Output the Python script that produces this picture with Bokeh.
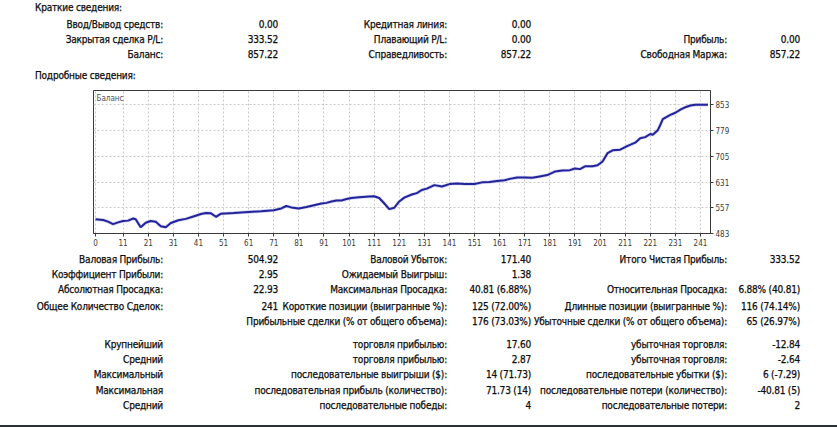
from bokeh.plotting import figure
from bokeh.models import Div, Range1d, FixedTicker, Label
from bokeh.layouts import column
from bokeh.embed import file_html
from bokeh.resources import INLINE

# ---------------- data ----------------
trade_idx = [0, 3, 5, 7, 9, 11, 13, 15, 16, 18, 20, 22, 24, 26, 28, 30, 33, 36, 39, 42,
             44, 46, 48, 50, 55, 61, 66, 71, 74, 76, 78, 81, 84, 87, 90, 92, 94, 96, 98,
             100, 102, 105, 109, 111, 113, 115, 117, 119, 121, 123, 126, 128, 130, 132,
             135, 138, 141, 144, 147, 151, 154, 157, 160, 163, 165, 168, 171, 174, 177,
             180, 183, 186, 189, 191, 193, 195, 198, 200, 202, 204, 206, 209, 212, 215,
             217, 219, 221, 222, 224, 225, 226, 229, 231, 233, 235, 237, 239, 241, 244]
balance = [523.7, 522, 517, 510, 515, 519, 520, 526, 524, 501, 514, 519, 517, 504, 501,
           513, 521, 525, 532, 539, 542, 541, 531, 540, 542, 545, 547, 550, 555, 562, 558,
           555, 559, 564, 569, 571, 575, 578, 578, 582, 585, 587, 589, 590, 585, 570, 553,
           557, 575, 586, 595, 599, 608, 612, 622, 618, 625, 627, 625, 625, 630, 631, 634,
           636, 640, 644, 644, 643, 647, 651, 661, 664, 665, 670, 668, 676, 676, 679, 690,
           714, 722, 724, 735, 744, 757, 760, 769, 767, 780, 795, 812, 824, 830, 839, 846,
           851, 853, 853, 853]
x_ticks = [0, 11, 21, 31, 41, 51, 61, 71, 81, 91, 101, 111, 121, 131, 141, 151, 161,
           171, 181, 191, 201, 211, 221, 231, 241]
y_ticks = [483, 557, 631, 705, 779, 853]
x_start, x_end = -0.8, 245
y_start, y_end = 483, 894

summary_title = "Краткие сведения:"
details_title = "Подробные сведения:"
summary_rows = [
    ["Ввод/Вывод средств:", "0.00", "Кредитная линия:", "0.00", "", ""],
    ["Закрытая сделка P/L:", "333.52", "Плавающий P/L:", "0.00", "Прибыль:", "0.00"],
    ["Баланс:", "857.22", "Справедливость:", "857.22", "Свободная Маржа:", "857.22"],
]
stats_rows = [
    ["Валовая Прибыль:", "504.92", "Валовой Убыток:", "171.40", "Итого Чистая Прибыль:", "333.52"],
    ["Коэффициент Прибыли:", "2.95", "Ожидаемый Выигрыш:", "1.38", "", ""],
    ["Абсолютная Просадка:", "22.93", "Максимальная Просадка:", "40.81 (6.88%)", "Относительная Просадка:", "6.88% (40.81)"],
    ["Общее Количество Сделок:", "241", "Короткие позиции (выигранные %):", "125 (72.00%)", "Длинные позиции (выигранные %):", "116 (74.14%)"],
    ["", "", "Прибыльные сделки (% от общего объема):", "176 (73.03%)", "Убыточные сделки (% от общего объема):", "65 (26.97%)"],
    ["Крупнейший", "", "торговля прибылью:", "17.60", "убыточная торговля:", "-12.84"],
    ["Средний", "", "торговля прибылью:", "2.87", "убыточная торговля:", "-2.64"],
    ["Максимальный", "", "последовательные выигрыши ($):", "14 (71.73)", "последовательные убытки ($):", "6 (-7.29)"],
    ["Максимальная", "", "последовательная прибыль (количество):", "71.73 (14)", "последовательные потери (количество):", "-40.81 (5)"],
    ["Средний", "", "последовательные победы:", "4", "последовательные потери:", "2"],
]

# ---------------- styling / layout helpers ----------------
W = 837
FONT = "Tahoma, 'DejaVu Sans Condensed', 'DejaVu Sans', sans-serif"
col_right = [163, 278, 447, 531, 727, 800]
BOX = (f'font-family:{FONT};font-size:10px;letter-spacing:-0.2px;color:#0e0e0e;'
       f'overflow:hidden;-webkit-text-stroke:0.25px #0e0e0e;')


def span_right(text, xr, yc):
    return (f'<span style="position:absolute;right:{W - xr}px;top:{yc - 7}px;'
            f'line-height:14px;white-space:nowrap;">{text}</span>')


def span_left(text, xl, yc):
    return (f'<span style="position:absolute;left:{xl}px;top:{yc - 7}px;'
            f'line-height:14px;white-space:nowrap;">{text}</span>')


# top block
parts = [f'<div style="position:relative;width:{W}px;height:88px;{BOX}">']
parts.append(span_left(summary_title, 35, 7.5))
parts.append(span_left(details_title, 35, 75.5))
for r, row in enumerate(summary_rows):
    yc = 24.5 + 15 * r
    for c, txt in enumerate(row):
        if txt:
            parts.append(span_right(txt, col_right[c], yc))
parts.append('</div>')
top_html = "".join(parts)

# bottom block
stats_y = [259.5, 274.5, 289.5, 306.5, 321.5, 345, 360, 375, 391, 406]
bottom_top = 250
parts = [f'<div style="position:relative;width:{W}px;height:{427 - bottom_top}px;{BOX}">']
for row, yc in zip(stats_rows, stats_y):
    for c, txt in enumerate(row):
        if txt:
            parts.append(span_right(txt, col_right[c], yc - bottom_top))
parts.append(f'<div style="position:absolute;left:0;top:{425 - bottom_top}px;'
             f'width:{W}px;height:2px;background:#283236;"></div>')
parts.append('</div>')
bottom_html = "".join(parts)

top_div = Div(text=top_html, width=W, height=88, margin=0,
              styles={"margin": "0", "padding": "0"})
bottom_div = Div(text=bottom_html, width=W, height=427 - bottom_top, margin=0,
                 styles={"margin": "0", "padding": "0"})

# ---------------- chart ----------------
p = figure(width=W, height=162, output_backend="svg", toolbar_location=None,
           x_range=Range1d(x_start, x_end), y_range=Range1d(y_start, y_end),
           y_axis_location="right", min_border_left=93, min_border_right=127,
           min_border_top=2, min_border_bottom=17, margin=0)
p.background_fill_color = "white"
p.border_fill_color = "white"
p.outline_line_color = "#3a3a3a"
p.outline_line_width = 1

p.line(trade_idx, balance, line_color="#b8b8e8", line_width=3.4, line_alpha=0.6)
p.line(trade_idx, balance, line_color="#23239a", line_width=2)

for ax in (p.xaxis[0], p.yaxis[0]):
    ax.axis_line_color = "#3a3a3a"
    ax.major_tick_line_color = "#3a3a3a"
    ax.minor_tick_line_color = None
    ax.major_tick_in = 0
    ax.major_tick_out = 3
    ax.major_label_text_font = "DejaVu Sans Condensed"
    ax.major_label_text_font_size = "8px"
    ax.major_label_text_color = "#3a3a3a"

p.xaxis[0].ticker = FixedTicker(ticks=x_ticks)
p.yaxis[0].ticker = FixedTicker(ticks=y_ticks)
p.xaxis[0].major_label_standoff = 2
p.yaxis[0].major_label_standoff = 2

p.xgrid.ticker = FixedTicker(ticks=x_ticks)
p.ygrid.ticker = FixedTicker(ticks=y_ticks)
for g in (p.xgrid[0], p.ygrid[0]):
    g.grid_line_color = "#c9c9c9"
    g.grid_line_dash = "2 2"
    g.grid_line_width = 1

p.add_layout(Label(x=x_start, y=y_end, x_offset=3, y_offset=-3, text="Баланс",
                   text_baseline="top", text_font="DejaVu Sans Condensed",
                   text_font_size="8px", text_color="#505050"))

layout = column(top_div, p, bottom_div, spacing=0, margin=0)

open("out.html", "w").write(file_html(layout, INLINE))
